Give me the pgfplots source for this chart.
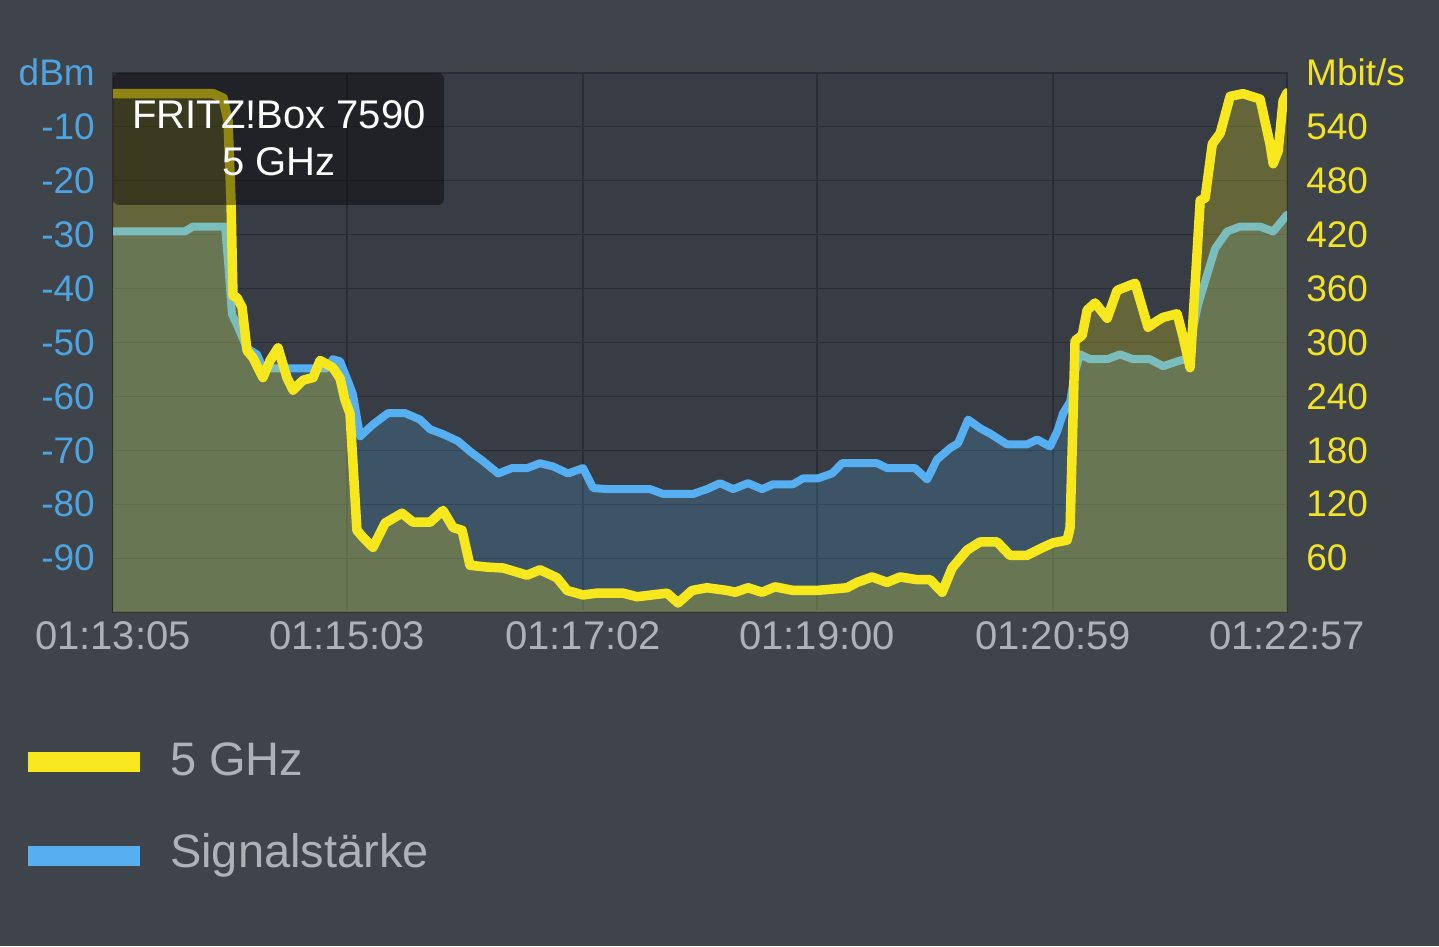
\documentclass[border=0pt]{standalone}
\usepackage{pgfplots}
\pgfplotsset{compat=1.18}
\usepackage{pgfplotstable}
\usepackage{fontspec}
\setmainfont{Liberation Sans}
\definecolor{bgout}{HTML}{3F444B}
\definecolor{plotbg}{HTML}{383C44}
\definecolor{gridc}{HTML}{2A2D33}
\definecolor{blueline}{HTML}{55AFF0}
\definecolor{yelline}{HTML}{F7E81E}
\definecolor{bluelab}{HTML}{4CA5E2}
\definecolor{yellab}{HTML}{F2E324}
\definecolor{graytxt}{HTML}{AEB2B7}

\pgfplotstableread{
s dbm
0 -29.4
36.3 -29.4
40.3 -28.5
56.5 -28.5
58.0 -35.0
60.0 -44.8
62.5 -46.7
67.6 -51.1
72.6 -52.2
75.6 -54.8
107.9 -54.8
110.9 -53.1
114.5 -53.5
118.5 -57.2
121.0 -59.6
124.6 -67.4
131.1 -65.2
138.7 -63.1
147.3 -63.1
154.8 -64.3
159.9 -66.1
166.4 -67.0
174.0 -68.3
180.0 -70.2
186.6 -72.0
194.2 -74.3
201.2 -73.3
208.8 -73.3
215.3 -72.4
221.9 -73.0
229.5 -74.3
237.0 -73.3
242.1 -77.0
249.1 -77.2
270.8 -77.2
277.4 -78.1
292.5 -78.1
299.5 -77.2
306.1 -76.1
312.7 -77.2
320.2 -76.1
327.3 -77.2
332.8 -76.3
342.9 -76.3
348.0 -75.2
355.5 -75.2
362.6 -74.3
367.6 -72.4
385.3 -72.4
390.3 -73.3
404.4 -73.3
410.5 -75.4
415.5 -71.7
422.1 -69.6
426.1 -68.7
431.2 -64.3
437.2 -65.9
442.3 -66.9
450.8 -68.9
460.9 -68.9
466.0 -68.0
472.5 -69.3
476.1 -66.5
479.1 -63.1
482.6 -61.0
485.1 -55.4
487.6 -52.2
492.7 -53.1
501.3 -53.1
507.8 -52.2
514.4 -53.1
522.9 -53.1
529.5 -54.4
536.6 -53.5
541.6 -53.0
547.1 -43.0
551.7 -37.4
555.7 -32.6
561.8 -29.4
568.3 -28.5
578.4 -28.5
585.0 -29.4
592.0 -26.3
}\bluetab

\pgfplotstableread{
s mbit
0 577
50.4 577
55.5 572
58.0 547
59.5 458
60.5 352
62.5 350
65.1 339
67.6 291
70.6 283
75.6 261
79.2 280
83.2 294
87.7 261
90.8 247
95.8 258
100.9 261
104.4 280
110.9 272
114.5 260
117.0 236
119.5 221
123.0 91
126.1 83
131.1 72
137.2 99
145.7 110
151.3 100
159.9 100
166.4 113
171.5 94
176.0 91
180.0 52
188.6 50
196.7 49
208.8 41
215.3 47
223.9 38
229.0 24
237.0 19
244.1 21
257.2 21
264.2 17
279.4 21
284.9 10
292.0 24
299.5 27
309.6 24
313.7 22
320.2 27
327.3 22
333.8 28
342.9 24
355.0 24
370.1 27
375.2 33
382.8 39
390.3 33
396.9 39
405.4 36
412.0 36
418.1 22
423.1 49
430.7 69
437.2 78
445.8 78
452.3 63
460.9 63
469.0 72
474.0 77
481.1 80
482.6 94
485.1 302
488.7 308
491.2 336
495.2 344
501.3 327
506.3 358
515.4 366
517.9 347
521.9 317
526.5 324
529.5 328
536.6 332
539.6 306
543.1 272
546.6 399
548.2 458
550.7 461
554.3 521
558.3 533
563.3 574
569.8 577
578.4 571
583.4 521
585.0 499
587.5 513
590.0 569
592.0 578
}\yeltab

\begin{document}
\begin{tikzpicture}
\useasboundingbox (0,0) rectangle (1439pt,946pt);
\fill[bgout] (0,0) rectangle (1439pt,946pt);

% left axis: dBm, plotted as dBm+100 so that the area closes at the bottom
\begin{axis}[
  at={(113pt,334pt)}, anchor=south west,
  scale only axis, width=1174pt, height=539pt,
  xmin=0, xmax=592, ymin=0, ymax=100,
  axis background/.style={fill=plotbg},
  axis line style={draw=gridc, line width=1.5pt},
  xtick={0,118,237,355,474,592},
  xticklabels={01:13:05,01:15:03,01:17:02,01:19:00,01:20:59,01:22:57},
  ytick={10,20,30,40,50,60,70,80,90},
  yticklabels={-90,-80,-70,-60,-50,-40,-30,-20,-10},
  grid=major,
  major grid style={draw=gridc, line width=1.2pt},
  major tick length=0pt,
  tick style={draw=none},
  yticklabel style={font=\fontsize{37}{40}\selectfont, text=bluelab, anchor=east, inner sep=0pt, xshift=-18pt},
  xticklabel style={font=\fontsize{40}{44}\selectfont, text=graytxt, anchor=north, inner sep=0pt, yshift=-9pt},
]
\addplot[draw=none, fill=blueline, fill opacity=0.2] table[x=s, y expr=\thisrow{dbm}+100] {\bluetab} \closedcycle;
\addplot[blueline, line width=8pt, line join=round, line cap=round] table[x=s, y expr=\thisrow{dbm}+100] {\bluetab};
\end{axis}

\begin{axis}[
  at={(113pt,334pt)}, anchor=south west,
  scale only axis, width=1174pt, height=539pt,
  xmin=0, xmax=592, ymin=0, ymax=600,
  axis x line=none,
  axis y line*=right,
  axis line style={draw=none},
  ytick={60,120,180,240,300,360,420,480,540},
  yticklabels={60,120,180,240,300,360,420,480,540},
  major tick length=0pt,
  tick style={draw=none},
  yticklabel style={font=\fontsize{37}{40}\selectfont, text=yellab, anchor=west, inner sep=0pt, xshift=19pt},
]
\addplot[draw=none, fill=yelline, fill opacity=0.24] table[x=s, y=mbit] {\yeltab} \closedcycle;
\addplot[yelline, line width=9.5pt, line join=round, line cap=round] table[x=s, y=mbit] {\yeltab};
\end{axis}

% axis unit labels
\node[anchor=east, inner sep=0pt, text=bluelab, font=\fontsize{37}{40}\selectfont] at (95pt,874pt) {dBm};
\node[anchor=west, inner sep=0pt, text=yellab, font=\fontsize{37}{40}\selectfont] at (1306pt,874pt) {Mbit/s};

% tooltip box
\fill[black, opacity=0.42, rounded corners=6pt] (113pt,873pt) rectangle (444pt,741pt);
\node[text=white, font=\fontsize{40}{44}\selectfont, inner sep=0pt] at (279pt,831pt) {FRITZ!Box 7590};
\node[text=white, font=\fontsize{40}{44}\selectfont, inner sep=0pt] at (279pt,784pt) {5 GHz};

% legend
\fill[yelline] (28pt,174pt) rectangle (140pt,194pt);
\node[anchor=base west, inner sep=0pt, text=graytxt, font=\fontsize{47}{52}\selectfont] at (170pt,171pt) {5 GHz};
\fill[blueline] (28pt,80pt) rectangle (140pt,100pt);
\node[anchor=base west, inner sep=0pt, text=graytxt, font=\fontsize{47}{52}\selectfont] at (170pt,79pt) {Signalstärke};
\end{tikzpicture}
\end{document}
